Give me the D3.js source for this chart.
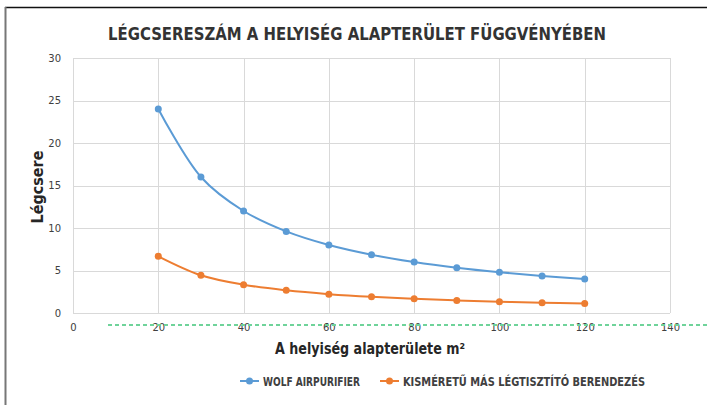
<!DOCTYPE html>
<html>
<head>
<meta charset="utf-8">
<script src="https://cdn.jsdelivr.net/npm/d3@7"></script>
<style>
  body { margin: 0; background: #fff; }
  svg { display: block; }
  .axis text { font-family: "DejaVu Sans", sans-serif; font-size: 10px; fill: #404040; }
  .axis path, .axis line { display: none; }
  .grid line { stroke: #d9d9d9; stroke-width: 1; }
  .cond { font-family: "Liberation Sans Narrow", "DejaVu Sans Condensed", "DejaVu Sans", sans-serif; }
</style>
</head>
<body>
<script>
(function(){
//data
var areas = [20, 30, 40, 50, 60, 70, 80, 90, 100, 110, 120];
var wolfValues = [24, 16, 12, 9.6, 8, 6.86, 6, 5.33, 4.8, 4.36, 4];
var smallValues = [6.67, 4.44, 3.33, 2.67, 2.22, 1.9, 1.67, 1.48, 1.33, 1.21, 1.11];
var seriesNames = ["WOLF AIRPURIFIER", "KISMÉRETŰ MÁS LÉGTISZTÍTÓ BERENDEZÉS"];
var xTicks = [0, 20, 40, 60, 80, 100, 120, 140];
var yTicks = [0, 5, 10, 15, 20, 25, 30];
var colors = ["#5b9bd5", "#ed7d31"];

var width = 707, height = 405;
var left = 73, right = 670, top = 58, bottom = 313;

var svg = d3.select("body").append("svg")
    .attr("width", width)
    .attr("height", height);

//frame lines
svg.append("line").attr("x1", 5).attr("x2", 707).attr("y1", 7.5).attr("y2", 7.5)
    .attr("stroke", "#111").attr("stroke-width", 1.5);
svg.append("line").attr("x1", 5.5).attr("x2", 5.5).attr("y1", 7).attr("y2", 405)
    .attr("stroke", "#777").attr("stroke-width", 2);

var x = d3.scaleLinear().domain([0, 140]).range([left, right]);
var y = d3.scaleLinear().domain([0, 30]).range([bottom, top]);

//grid
var grid = svg.append("g").attr("class", "grid");
grid.selectAll(".h").data(yTicks).enter().append("line")
    .attr("x1", left).attr("x2", right)
    .attr("y1", function(d){ return Math.round(y(d)) + 0.5; })
    .attr("y2", function(d){ return Math.round(y(d)) + 0.5; });
grid.selectAll(".v").data(xTicks).enter().append("line")
    .attr("y1", top).attr("y2", bottom)
    .attr("x1", function(d){ return Math.round(x(d)) + 0.5; })
    .attr("x2", function(d){ return Math.round(x(d)) + 0.5; });

//axes
svg.append("g").attr("class", "axis")
    .attr("transform", "translate(" + (left - 4) + ",0)")
    .call(d3.axisLeft(y).tickValues(yTicks).tickSize(0).tickPadding(8));
svg.append("g").attr("class", "axis")
    .attr("transform", "translate(0," + (bottom + 8) + ")")
    .call(d3.axisBottom(x).tickValues(xTicks).tickSize(0).tickPadding(3));

//green dotted line
svg.append("line").attr("x1", 108).attr("x2", 707).attr("y1", 325).attr("y2", 325)
    .attr("stroke", "#6fd39a").attr("stroke-width", 2).attr("stroke-dasharray", "4,3");

//series
var line = d3.line()
    .x(function(d){ return x(d[0]); })
    .y(function(d){ return y(d[1]); })
    .curve(d3.curveCatmullRom.alpha(0.5));

[wolfValues, smallValues].forEach(function(vals, s){
    var pts = areas.map(function(a, i){ return [a, vals[i]]; });
    svg.append("path").datum(pts)
        .attr("d", line)
        .attr("fill", "none")
        .attr("stroke", colors[s])
        .attr("stroke-width", 2);
    svg.selectAll(".pt" + s).data(pts).enter().append("circle")
        .attr("cx", function(d){ return x(d[0]); })
        .attr("cy", function(d){ return y(d[1]); })
        .attr("r", 3.5)
        .attr("fill", colors[s]);
});

//title
svg.append("text")
    .attr("class", "cond")
    .attr("x", 357).attr("y", 40)
    .attr("text-anchor", "middle")
    .attr("font-size", 18)
    .attr("font-weight", "bold")
    .attr("textLength", 498)
    .attr("lengthAdjust", "spacingAndGlyphs")
    .attr("fill", "#333")
    .text("LÉGCSERESZÁM A HELYISÉG ALAPTERÜLET FÜGGVÉNYÉBEN");

//axis titles
svg.append("text")
    .attr("class", "cond")
    .attr("transform", "translate(43,187) rotate(-90)")
    .attr("text-anchor", "middle")
    .attr("font-size", 16)
    .attr("font-weight", "bold")
    .attr("fill", "#262626")
    .text("Légcsere");
svg.append("text")
    .attr("class", "cond")
    .attr("x", 370).attr("y", 354)
    .attr("text-anchor", "middle")
    .attr("font-size", 16)
    .attr("font-weight", "bold")
    .attr("textLength", 190)
    .attr("lengthAdjust", "spacingAndGlyphs")
    .attr("fill", "#262626")
    .text("A helyiség alapterülete m²");

//legend
var legendX = [240, 380], legendW = [97, 242];
seriesNames.forEach(function(name, s){
    var g = svg.append("g").attr("transform", "translate(" + legendX[s] + ",381)");
    g.append("line").attr("x1", 0).attr("x2", 19).attr("y1", 0).attr("y2", 0)
        .attr("stroke", colors[s]).attr("stroke-width", 2);
    g.append("circle").attr("cx", 9.5).attr("cy", 0).attr("r", 3.5).attr("fill", colors[s]);
    g.append("text").attr("class", "cond").attr("x", 23).attr("y", 4.5)
        .attr("font-size", 12)
        .attr("font-weight", "bold")
        .attr("textLength", legendW[s])
        .attr("lengthAdjust", "spacingAndGlyphs")
        .attr("fill", "#404040")
        .text(name);
});
})();
</script>
</body>
</html>
